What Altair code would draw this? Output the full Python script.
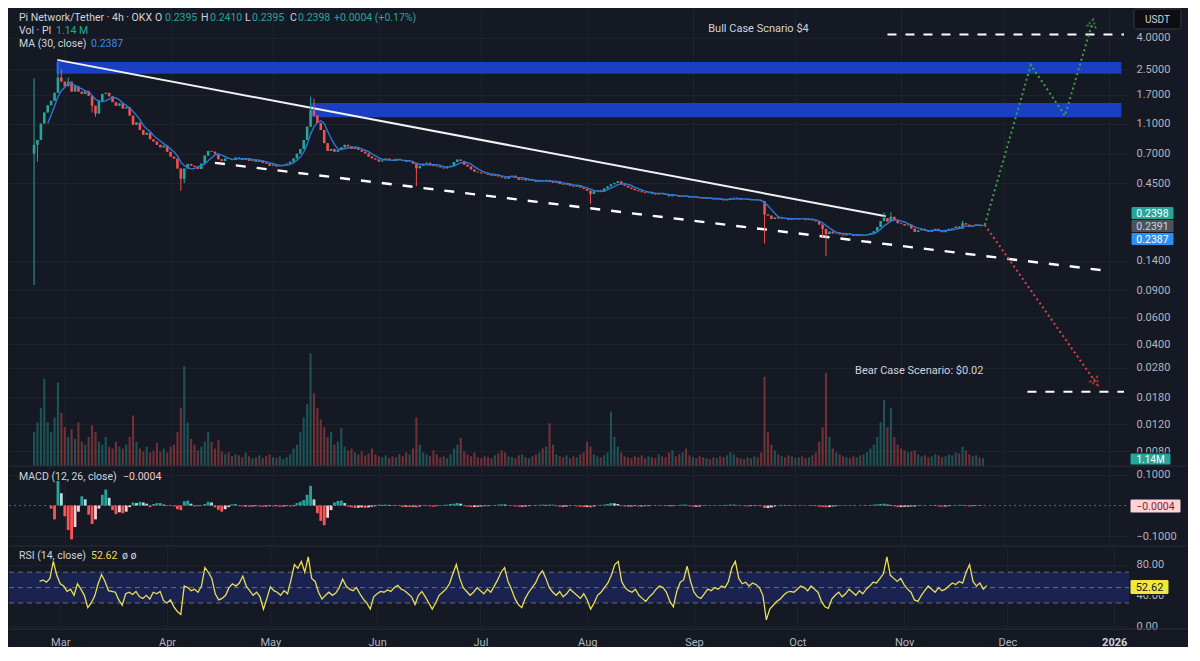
import altair as alt
import pandas as pd

# ------------------------------------------------------------------ data
START = "2025-02-20"          # first daily bar
FIRST_OPEN = 0.70

close = [
    0.80, 0.86, 1.10, 1.30, 1.45, 1.55, 1.75, 2.20, 2.07, 1.93,
    2.07, 1.78, 1.93, 1.78, 1.72, 1.80, 1.67, 1.44, 1.28, 1.55,
    1.72, 1.75, 1.66, 1.52, 1.44, 1.49, 1.38, 1.41, 1.24, 1.08,
    1.12, 1.00, 0.93, 0.96, 0.87, 0.84, 0.80, 0.77, 0.79, 0.72,
    0.67, 0.65, 0.56, 0.48, 0.56, 0.60, 0.585, 0.575, 0.556, 0.602,
    0.68, 0.73, 0.722, 0.70, 0.643, 0.628, 0.652, 0.647, 0.638, 0.661,
    0.652, 0.638, 0.655, 0.628, 0.641, 0.618, 0.633, 0.609, 0.601, 0.583,
    0.594, 0.578, 0.585, 0.592, 0.603, 0.621, 0.652, 0.70, 0.75, 0.86,
    1.05, 1.34, 1.24, 1.11, 1.00, 0.82, 0.73, 0.752, 0.721, 0.742,
    0.771, 0.80, 0.781, 0.752, 0.768, 0.741, 0.722, 0.703, 0.671, 0.652,
    0.641, 0.622, 0.633, 0.651, 0.637, 0.628, 0.648, 0.636, 0.627, 0.618,
    0.623, 0.601, 0.562, 0.584, 0.602, 0.611, 0.592, 0.581, 0.577, 0.569,
    0.561, 0.578, 0.584, 0.618, 0.641, 0.628, 0.593, 0.577, 0.552, 0.534,
    0.529, 0.521, 0.518, 0.509, 0.502, 0.511, 0.497, 0.489, 0.481, 0.498,
    0.503, 0.488, 0.472, 0.479, 0.468, 0.477, 0.466, 0.458, 0.469, 0.461,
    0.472, 0.459, 0.452, 0.461, 0.443, 0.439, 0.446, 0.432, 0.427, 0.434,
    0.421, 0.412, 0.401, 0.382, 0.398, 0.403, 0.397, 0.415, 0.428, 0.442,
    0.451, 0.462, 0.441, 0.432, 0.421, 0.413, 0.404, 0.398, 0.392, 0.387,
    0.391, 0.383, 0.379, 0.388, 0.381, 0.377, 0.369, 0.375, 0.372, 0.366,
    0.371, 0.368, 0.362, 0.367, 0.361, 0.358, 0.356, 0.362, 0.357, 0.352,
    0.356, 0.351, 0.347, 0.352, 0.358, 0.361, 0.355, 0.351, 0.349, 0.353,
    0.348, 0.351, 0.347, 0.343, 0.281, 0.276, 0.262, 0.268, 0.264, 0.267,
    0.263, 0.259, 0.265, 0.261, 0.266, 0.263, 0.258, 0.262, 0.257, 0.253,
    0.241, 0.226, 0.209, 0.217, 0.211, 0.214, 0.208, 0.205, 0.211, 0.207,
    0.203, 0.208, 0.204, 0.207, 0.209, 0.212, 0.218, 0.232, 0.254, 0.266,
    0.252, 0.271, 0.256, 0.246, 0.243, 0.238, 0.241, 0.227, 0.216, 0.221,
    0.226, 0.219, 0.216, 0.222, 0.226, 0.219, 0.215, 0.221, 0.226, 0.229,
    0.234, 0.227, 0.246, 0.241, 0.233, 0.236, 0.241, 0.238, 0.2398,
]

# notable wicks (bar index -> extreme)
wick_low = {0: 0.097, 1: 0.62, 17: 1.30, 18: 1.22, 43: 0.40, 44: 0.45, 81: 1.05,
            112: 0.43, 163: 0.33, 214: 0.181, 231: 0.20, 232: 0.150}
wick_high = {0: 2.17, 7: 2.90, 8: 2.50, 10: 2.20, 81: 1.65, 82: 1.60,
             249: 0.289, 251: 0.290, 272: 0.255}

volume = [
    35, 45, 60, 90, 45, 35, 50, 86, 55, 40,
    30, 38, 28, 45, 25, 22, 30, 42, 35, 25,
    22, 30, 20, 18, 25, 20, 18, 22, 30, 52,
    25, 18, 15, 20, 14, 16, 24, 15, 18, 14,
    20, 22, 35, 60, 103, 45, 28, 22, 16, 20,
    25, 35, 25, 18, 27, 15, 12, 14, 10, 12,
    11, 9, 14, 10, 8, 9, 11, 8, 10, 12,
    9, 8, 10, 7, 9, 12, 18, 22, 35, 50,
    64, 116, 75, 60, 48, 40, 30, 35, 22, 25,
    39, 20, 16, 18, 14, 12, 15, 11, 13, 18,
    12, 10, 9, 11, 8, 10, 9, 12, 10, 14,
    12, 18, 50, 22, 14, 12, 10, 16, 12, 9,
    10, 8, 12, 18, 22, 29, 15, 12, 10, 14,
    9, 8, 10, 9, 8, 11, 13, 16, 14, 10,
    9, 8, 11, 12, 9, 8, 10, 12, 14, 18,
    20, 44, 22, 12, 10, 9, 11, 8, 10, 9,
    12, 14, 25, 20, 12, 10, 9, 11, 14, 56,
    30, 20, 14, 10, 9, 8, 10, 9, 11, 8,
    10, 9, 8, 12, 10, 9, 14, 16, 10, 12,
    14, 18, 11, 9, 8, 10, 9, 8, 7, 9,
    8, 10, 9, 11, 14, 12, 9, 8, 7, 9,
    8, 10, 9, 14, 92, 35, 22, 16, 12, 10,
    9, 11, 10, 8, 9, 10, 8, 9, 11, 14,
    25, 40, 96, 30, 18, 14, 12, 10, 9, 8,
    10, 9, 11, 12, 14, 18, 22, 30, 45, 68,
    40, 60, 30, 22, 18, 16, 14, 15, 16, 12,
    10, 11, 9, 10, 12, 11, 9, 10, 12, 11,
    14, 13, 20, 16, 12, 10, 11, 9, 8,
]
VOL_DOMAIN_MAX = 472

macd_hist_milli = [
    0, 0, 0, 0, 0, -10, -45, 80, 40, -35,
    -80, -110, -70, -20, 30, 20, -30, -60, -45, -10,
    35, 52, 25, -15, -28, -22, -25, -20, -5, 10,
    8, 12, 10, 6, -5, 5, 8, 8, 3, -2,
    2, -3, -12, -15, 14, 16, 6, -3, -2, -1,
    5, 12, 10, -6, -14, -20, -12, -5, 4, 5,
    -2, -3, -3, -4, -3, -2, -3, -4, -3, -2,
    -3, -2, -4, -3, -2, -3, -2, 8, 12, 18,
    35, 64, 20, -25, -50, -64, -40, -15, 10, 15,
    16, 8, -4, -6, -8, -7, -6, -8, -6, -4,
    -2, 3, 2, 3, 2, 1, 2, -2, -5, -4,
    -5, -4, -6, -3, 2, 1, -3, -4, -2, 1,
    2, 3, 5, 6, 8, 6, -2, -4, -5, -5,
    -4, -3, -2, -2, 1, 2, 3, 4, 3, -1,
    -2, -3, -4, -4, -3, -2, 1, 2, 2, 3,
    2, 3, 3, -2, -4, -4, -3, -1, 1, -3,
    -4, -5, -5, -6, -3, 1, 2, 3, 5, 8,
    7, 5, -2, -3, -3, -3, -2, -3, -3, -2,
    -2, 1, 1, 1, -1, -2, -2, -2, 1, 2,
    3, 3, -2, -4, -4, -3, -1, 1, 1, 1,
    1, 1, 2, 2, 3, 3, 1, -1, -2, -3,
    -2, -1, -1, -2, -8, -8, -6, -3, 1, 2,
    2, 1, 1, 1, 1, 1, 0, -1, -1, -2,
    -4, -5, -6, -5, -3, -2, 1, 1, 1, 1,
    1, 0, 0, 1, 1, 2, 3, 4, 5, 6,
    3, 2, -3, -5, -5, -4, -4, -3, -3, -1,
    1, 1, 0, -1, -1, -3, -4, -3, -2, 1,
    1, 2, 2, -2, -3, -2, -1, -1, -0.4,
]

rsi = [
    None, None, None,
    58, 60, 57, 62, 84, 66, 55, 52, 45, 48,
    40, 55, 48, 40, 24, 30, 39, 55, 67, 58,
    46, 45, 44, 34, 27, 42, 44, 41, 45, 38,
    36, 40, 35, 44, 42, 45, 33, 30, 34, 25,
    19, 15, 52, 50, 46, 48, 44, 52, 76, 70,
    62, 42, 34, 36, 40, 50, 55, 52, 56, 65,
    52, 46, 40, 44, 38, 22, 36, 51, 46, 44,
    40, 46, 42, 60, 80, 75, 84, 70, 90, 62,
    58, 44, 35, 40, 44, 40, 43, 50, 61, 52,
    48, 46, 50, 42, 35, 30, 22, 38, 42, 45,
    44, 47, 45, 50, 53, 48, 46, 42, 38, 28,
    40, 45, 38, 30, 22, 30, 40, 44, 48, 55,
    68, 80, 62, 50, 45, 40, 44, 50, 46, 42,
    48, 44, 52, 60, 70, 76, 58, 48, 36, 28,
    24, 36, 44, 50, 56, 66, 72, 62, 50, 44,
    40, 45, 38, 42, 48, 44, 40, 36, 42, 34,
    22, 30, 40, 44, 50, 56, 66, 80, 84, 58,
    50, 46, 44, 48, 40, 36, 32, 38, 42, 48,
    52, 50, 44, 32, 25, 45, 57, 60, 78, 58,
    44, 38, 36, 42, 48, 46, 50, 48, 52, 50,
    58, 76, 84, 62, 55, 57, 52, 56, 54, 50,
    40, 8, 22, 27, 32, 35, 40, 44, 45, 44,
    48, 52, 50, 46, 52, 48, 44, 32, 25, 23,
    35, 40, 44, 38, 42, 48, 44, 40, 46, 42,
    48, 52, 57, 56, 62, 68, 90, 66, 62, 58,
    62, 54, 48, 44, 34, 32, 40, 46, 52, 48,
    44, 50, 46, 48, 52, 56, 54, 58, 56, 70,
    80, 58, 52, 56, 48, 52.62,
]

price_ticks = [4.0, 2.5, 1.7, 1.1, 0.7, 0.45, 0.14, 0.09, 0.06, 0.04, 0.028, 0.018, 0.012, 0.008]
macd_ticks = [0.1, -0.1]
rsi_ticks = [80, 40, 0]
rsi_levels = [70, 50, 30]
month_ticks = [(2025, m) for m in range(3, 13)] + [(2026, 1)]

zone_lo = [2.33, 1.21]
zone_hi = [2.78, 1.50]
zone_start = ["2025-02-26T12:00:00", "2025-05-12T00:00:00"]
zone_end = ["2026-01-04T12:00:00", "2026-01-04T12:00:00"]

res_dates = ["2025-02-26T18:00:00", "2025-10-27T12:00:00"]
res_prices = [2.87, 0.273]
sup_dates = ["2025-04-14T00:00:00", "2025-12-31T00:00:00"]
sup_prices = [0.61, 0.1205]

bull_dates = ["2025-11-25T12:00:00", "2025-12-09T00:00:00", "2025-12-19T00:00:00", "2025-12-27T00:00:00"]
bull_prices = [0.2398, 2.66, 1.24, 5.0]
bear_dates = ["2025-11-25T12:00:00", "2025-12-28T00:00:00"]
bear_prices = [0.2398, 0.0225]

target_start = ["2025-10-28T00:00:00", "2025-12-08T00:00:00"]
target_end = ["2026-01-05T07:00:00", "2026-01-05T07:00:00"]
target_price = [4.2, 0.0195]

note_labels = ["Bull Case Scnario $4", "Bear Case Scenario: $0.02"]
note_dates = ["2025-09-05T12:00:00", "2025-10-18T12:00:00"]
note_prices = [4.55, 0.0268]

# ------------------------------------------------------------------ style
FONT = "Roboto"
BG = "#151924"
GRID = "#1d212c"
SEP = "#2a2e39"
AX = "#b2b5be"
TXT = "#d1d4dc"
UP = "#26a69a"
DN = "#ef5350"
MA_C = "#2b78d8"
BAND = "#1b3fc2"
GREEN_DOT = "#43a047"
RED_DOT = "#d9463f"
YEL = "#e9dd55"
W, H1, H2, H3 = 1120, 458, 80, 83

# ------------------------------------------------------------------ frames
n = len(close)
dates = pd.date_range(START, periods=n, freq="D").strftime("%Y-%m-%dT%H:%M:%S").tolist()
opens = [FIRST_OPEN] + close[:-1]
highs = [max(o, c, wick_high.get(i, 0.0)) for i, (o, c) in enumerate(zip(opens, close))]
lows = [min(o, c, wick_low.get(i, 99.0)) for i, (o, c) in enumerate(zip(opens, close))]
cdf = pd.DataFrame({"date": dates, "open": opens, "close": close, "high": highs, "low": lows})

nv = min(len(volume), n)
vdf = pd.DataFrame({"date": dates[:nv], "vol": volume[:nv],
                    "up": [1 if close[i] >= opens[i] else 0 for i in range(nv)]})

mdates = pd.date_range(START, periods=len(macd_hist_milli), freq="D").strftime("%Y-%m-%dT%H:%M:%S").tolist()
mdf = pd.DataFrame({"date": mdates, "h": [v / 1000.0 for v in macd_hist_milli]})

rdates = pd.date_range(START, periods=len(rsi), freq="D").strftime("%Y-%m-%dT%H:%M:%S").tolist()
rdf = pd.DataFrame({"date": rdates, "rsi": rsi}).dropna()

zones = pd.DataFrame({"start": zone_start, "end": zone_end, "lo": zone_lo, "hi": zone_hi})
res_df = pd.DataFrame({"date": res_dates, "price": res_prices})
sup_df = pd.DataFrame({"date": sup_dates, "price": sup_prices})
bull_df = pd.DataFrame({"date": bull_dates, "price": bull_prices})
bear_df = pd.DataFrame({"date": bear_dates, "price": bear_prices})
tgt_df = pd.DataFrame({"start": target_start, "end": target_end, "price": target_price})
notes = pd.DataFrame({"label": note_labels, "date": note_dates, "price": note_prices})
one = pd.DataFrame({"k": [0]})

# ------------------------------------------------------------------ scales / axes
x_scale = alt.Scale(domain=[alt.DateTime(year=2025, month=2, date=14, hours=3),
                            alt.DateTime(year=2026, month=1, date=5, hours=7)])
month_vals = [alt.DateTime(year=y, month=m, date=1) for y, m in month_ticks]
x_axis_grid = alt.Axis(values=month_vals, labels=False, ticks=False, domain=False,
                       grid=True, gridColor=GRID, title=None)
x_axis_lab = alt.Axis(
    values=month_vals, ticks=False, domain=False, grid=True, gridColor=GRID, title=None,
    labelExpr="month(datum.value) == 0 ? timeFormat(datum.value, '%Y') : timeFormat(datum.value, '%b')",
    labelColor={"condition": {"test": "month(datum.value) == 0", "value": TXT}, "value": AX},
    labelFontWeight={"condition": {"test": "month(datum.value) == 0", "value": "bold"}, "value": "normal"},
    labelPadding=7, labelFontSize=11, labelFont=FONT, labelOverlap=False, labelFlush=False)


def yaxis(values, fmt):
    return alt.Axis(orient="right", values=values, format=fmt, ticks=False, domain=False,
                    grid=True, gridColor=GRID, title=None, labelColor=AX, labelFontSize=11,
                    labelFont=FONT, labelPadding=7, labelOverlap=False)


p_scale = alt.Scale(type="log", domain=[0.00639, 6.26], nice=False)
p_axis = yaxis(price_ticks, ".4f")
m_scale = alt.Scale(domain=[-0.1317, 0.1286], nice=False, zero=False)
m_axis = yaxis(macd_ticks, ".4f")
r_scale = alt.Scale(domain=[-3.8, 104.1], nice=False, zero=False)
r_axis = yaxis(rsi_ticks, ".2f")


def PX(f="date", axis=x_axis_grid):
    return alt.X(f, type="temporal", scale=x_scale, axis=axis)


def PY(f):
    return alt.Y(f, type="quantitative", scale=p_scale, axis=p_axis)


def txt(s, x, y, color, size=10.5, align="left", weight="normal"):
    return alt.Chart(one).mark_text(text=s, align=align, baseline="middle", fontSize=size,
                                    color=color, font=FONT, fontWeight=weight).encode(
        x=alt.value(x), y=alt.value(y))


def badge(x0, x1, yc, h, bg, fg, label, size=10.5, stroke=BG):
    rect = alt.Chart(one).mark_rect(color=bg, cornerRadius=2, stroke=stroke, strokeWidth=1).encode(
        x=alt.value(x0), x2=alt.value(x1), y=alt.value(yc - h / 2), y2=alt.value(yc + h / 2))
    return [rect, txt(label, (x0 + x1) / 2, yc + 0.5, fg, size=size, align="center")]


def separator(y):
    return alt.Chart(one).mark_rule(color=SEP, strokeWidth=1).encode(
        x=alt.value(0), x2=alt.value(W + 58), y=alt.value(y))


updown = alt.when(alt.datum.close >= alt.datum.open).then(alt.value(UP)).otherwise(alt.value(DN))

# ------------------------------------------------------------------ price panel
bands = alt.Chart(zones).mark_rect(color=BAND).encode(x=PX("start"), x2="end", y=PY("lo"), y2="hi")
support = alt.Chart(sup_df).mark_line(color="white", strokeWidth=2.4, strokeDash=[10, 11]).encode(
    x=PX(), y=PY("price"))
resist = alt.Chart(res_df).mark_line(color="#f2f2f2", strokeWidth=2).encode(x=PX(), y=PY("price"))
targets = alt.Chart(tgt_df).mark_rule(color="white", strokeWidth=2, strokeDash=[9, 9]).encode(
    x=PX("start"), x2="end", y=PY("price"))
wicks = alt.Chart(cdf).mark_rule(strokeWidth=1).encode(x=PX(), y=PY("low"), y2="high", color=updown)
bodies = alt.Chart(cdf).mark_bar(size=2.6).encode(x=PX(), y=PY("open"), y2="close", color=updown)
ma = (alt.Chart(cdf)
      .transform_window(ma="mean(close)", cnt="count()", frame=[-4, 0], sort=[alt.SortField("date")])
      .transform_filter(alt.datum.cnt >= 5)
      .mark_line(color=MA_C, strokeWidth=1.4)
      .encode(x=PX(), y=PY("ma")))
bull = alt.Chart(bull_df).mark_line(color=GREEN_DOT, strokeWidth=2, strokeDash=[2, 3]).encode(
    x=PX(), y=PY("price"))
bear = alt.Chart(bear_df).mark_line(color=RED_DOT, strokeWidth=2, strokeDash=[2, 3]).encode(
    x=PX(), y=PY("price"))
bull_tip = alt.Chart(bull_df.tail(1)).mark_point(shape="triangle-up", filled=False, size=70, angle=15,
                                                 color=GREEN_DOT, strokeWidth=2, strokeDash=[2, 2]).encode(
    x=PX(), y=PY("price"))
bear_tip = alt.Chart(bear_df.tail(1)).mark_point(shape="triangle-down", filled=False, size=70, angle=325,
                                                 color=RED_DOT, strokeWidth=2, strokeDash=[2, 2]).encode(
    x=PX(), y=PY("price"))
note_text = alt.Chart(notes).mark_text(align="left", baseline="middle", fontSize=11, color=TXT,
                                       font=FONT).encode(x=PX(), y=PY("price"), text="label:N")

header = [
    txt("Pi Network/Tether · 4h · OKX", 10, 10, TXT),
    txt("O", 146, 10, TXT), txt("0.2395", 156, 10, UP),
    txt("H", 192, 10, TXT), txt("0.2410", 201, 10, UP),
    txt("L", 236, 10, TXT), txt("0.2395", 243, 10, UP),
    txt("C", 281, 10, TXT), txt("0.2398", 289, 10, UP),
    txt("+0.0004 (+0.17%)", 325, 10, UP),
    txt("Vol · PI", 10, 23, TXT), txt("1.14 M", 47, 23, UP),
    txt("MA (30, close)", 10, 36, TXT), txt("0.2387", 82, 36, "#3d8bef"),
]
price_badges = (badge(W + 2, W + 45, 205, 13, UP, "white", "0.2398")
                + badge(W + 2, W + 45, 218, 13, "#4e525d", TXT, "0.2391")
                + badge(W + 2, W + 45, 231, 13, "#2d8ff0", "white", "0.2387")
                + badge(W + 1, W + 42, 451, 12, UP, "white", "1.14M", size=10)
                + badge(W + 5, W + 52, 11, 20, "#0c0e14", TXT, "USDT", size=10, stroke="#363a45"))

price_layer = alt.layer(bands, support, resist, targets, wicks, bodies, ma, bull, bear,
                        bull_tip, bear_tip, note_text, *header, *price_badges)

vol = alt.Chart(vdf).mark_bar(size=2.1, opacity=0.42).encode(
    x=PX(),
    y=alt.Y("vol:Q", scale=alt.Scale(domain=[0, VOL_DOMAIN_MAX], nice=False), axis=None),
    color=alt.when(alt.datum.up == 1).then(alt.value(UP)).otherwise(alt.value(DN)))

panel1 = (alt.layer(vol, price_layer, separator(H1))
          .resolve_scale(y="independent")
          .properties(width=W, height=H1))

# ------------------------------------------------------------------ MACD panel
m_zero = alt.Chart(one).mark_rule(color="#5d606b", strokeDash=[2, 3]).encode(
    y=alt.YDatum(0, scale=m_scale, axis=m_axis), x=alt.value(0), x2=alt.value(W))
m_color = (alt.when((alt.datum.h >= 0) & (alt.datum.h >= alt.datum.prev)).then(alt.value("#26a69a"))
           .when(alt.datum.h >= 0).then(alt.value("#b2dfdb"))
           .when(alt.datum.h < alt.datum.prev).then(alt.value("#ff5252"))
           .otherwise(alt.value("#ffcdd2")))
hist = (alt.Chart(mdf)
        .transform_window(prev="lag(h)", sort=[alt.SortField("date")])
        .mark_bar(size=2.8)
        .encode(x=PX(), y=alt.Y("h:Q", scale=m_scale, axis=m_axis), y2=alt.datum(0), color=m_color))
m_header = [txt("MACD (12, 26, close)", 10, 11, TXT), txt("−0.0004", 114, 11, "#f3c9cc")]
m_badge = badge(W + 1, W + 52, 40, 14, "#fcd3d6", "#8e1b24", "−0.0004")
panel2 = alt.layer(m_zero, hist, *m_header, *m_badge, separator(H2)).properties(width=W, height=H2)

# ------------------------------------------------------------------ RSI panel
r_band = alt.Chart(pd.DataFrame({"lo": [rsi_levels[2]], "hi": [rsi_levels[0]]})).mark_rect(
    color="#1a2350").encode(x=alt.value(0), x2=alt.value(W), y=alt.Y("lo:Q", scale=r_scale, axis=r_axis),
                            y2="hi")
r_lvls = alt.Chart(pd.DataFrame({"lvl": rsi_levels})).mark_rule(
    color="#8a8d96", strokeDash=[5, 4], opacity=0.7).encode(
    x=alt.value(0), x2=alt.value(W), y=alt.Y("lvl:Q", scale=r_scale, axis=r_axis))
r_line = alt.Chart(rdf).mark_line(color=YEL, strokeWidth=1.3).encode(
    x=PX(axis=x_axis_lab), y=alt.Y("rsi:Q", scale=r_scale, axis=r_axis))
r_header = [txt("RSI (14, close)", 10, 10, TXT), txt("52.62", 82, 10, YEL), txt("ø  ø", 113, 10, TXT)]
r_badge = badge(W + 1, W + 40, 41, 15, "#f3e63c", "#131722", "52.62", size=11)
panel3 = alt.layer(r_band, r_lvls, r_line, *r_header, *r_badge, separator(H3)).properties(width=W, height=H3)

# ------------------------------------------------------------------ assemble
chart = (alt.vconcat(panel1, panel2, panel3, spacing=0, bounds="flush")
         .resolve_scale(y="independent")
         .properties(padding=0, background=BG)
         .configure_view(strokeWidth=0)
         .configure_axis(labelFont=FONT))

chart.save("out.html", embed_options={"renderer": "svg", "actions": False})
